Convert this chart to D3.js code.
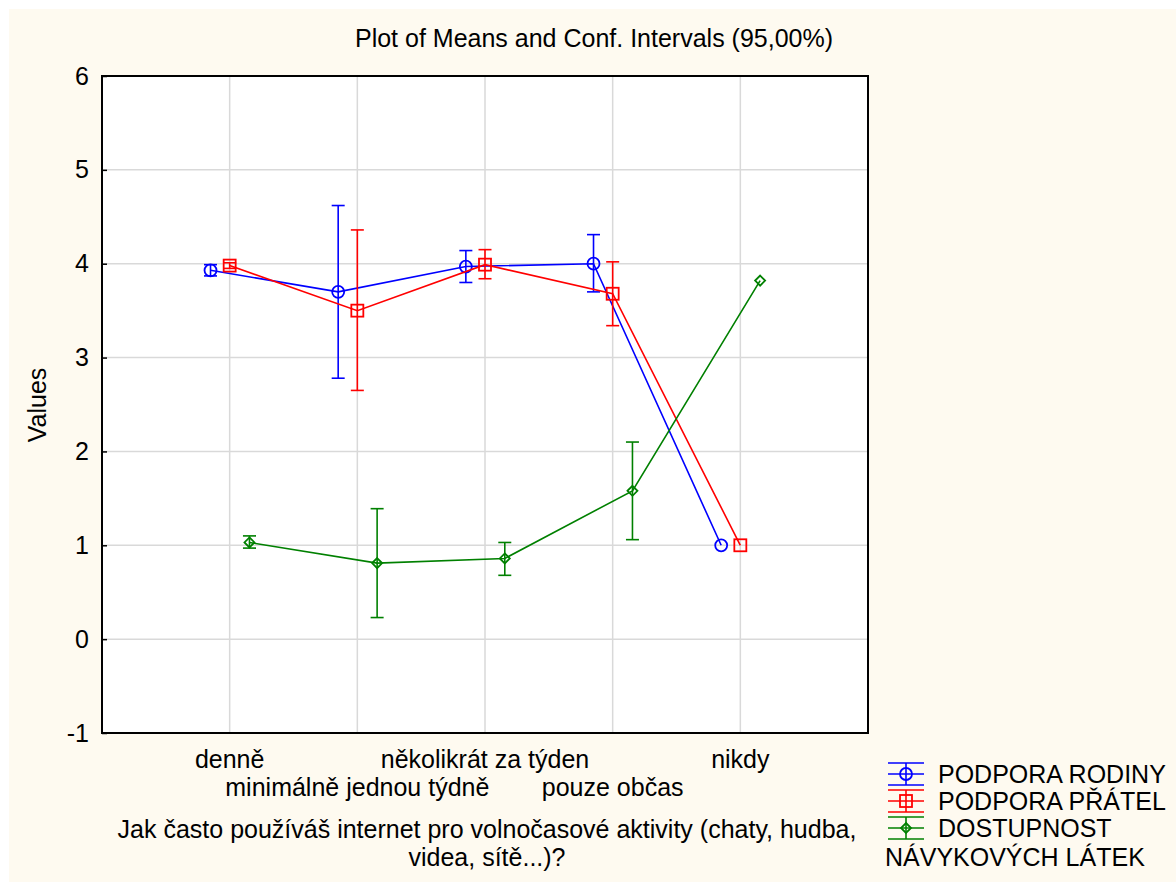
<!DOCTYPE html>
<html><head><meta charset="utf-8">
<script src="https://cdn.jsdelivr.net/npm/d3@7"></script>
<style>body{margin:0;background:#fff}svg{display:block}text{font-family:"Liberation Sans",Arial,sans-serif;fill:#000}</style>
</head><body>
<script>
const categories = ["denně","minimálně jednou týdně","několikrát za týden","pouze občas","nikdy"];
const seriesNames = ["PODPORA RODINY","PODPORA PŘÁTEL","DOSTUPNOST NÁVYKOVÝCH LÁTEK"];
const rodinyMean = [3.93, 3.70, 3.97, 4.00, 1.00];
const rodinyLow  = [3.87, 2.78, 3.80, 3.70, null];
const rodinyHigh = [3.99, 4.62, 4.14, 4.31, null];
const pratelMean = [3.98, 3.50, 3.99, 3.68, 1.00];
const pratelLow  = [3.95, 2.65, 3.84, 3.34, null];
const pratelHigh = [4.01, 4.36, 4.15, 4.02, null];
const latkyMean  = [1.03, 0.81, 0.86, 1.58, 3.82];
const latkyLow   = [0.97, 0.23, 0.68, 1.06, null];
const latkyHigh  = [1.10, 1.39, 1.03, 2.10, null];
const yTicks = [-1, 0, 1, 2, 3, 4, 5, 6];

const W = 1176, H = 882, FS = 25;
const svg = d3.select("body").append("svg").attr("width", W).attr("height", H);
svg.append("rect").attr("x", 9).attr("y", 9).attr("width", W - 9).attr("height", H - 9).attr("fill", "#fefaf0");

const L = 102, R = 868, T = 76, B = 733;
const x = d3.scaleLinear().domain([0, categories.length + 1]).range([L, R]);
const y = d3.scaleLinear().domain([-1, 6]).range([B, T]);

svg.append("rect").attr("x", L).attr("y", T).attr("width", R - L).attr("height", B - T).attr("fill", "#fff");

// grid
const g = svg.append("g");
g.selectAll(".hg").data(yTicks.filter(t => t > -1 && t < 6)).enter().append("line")
  .attr("x1", L).attr("x2", R).attr("y1", d => y(d)).attr("y2", d => y(d))
  .attr("stroke", "#d9d9d9").attr("stroke-width", 1.5);
g.selectAll(".vg").data(categories).enter().append("line")
  .attr("x1", (d, i) => x(i + 1)).attr("x2", (d, i) => x(i + 1)).attr("y1", T).attr("y2", B)
  .attr("stroke", "#d9d9d9").attr("stroke-width", 1.5);

// y axis
const yAxis = d3.axisLeft(y).tickValues(yTicks).tickSize(-5).tickFormat(d => String(d));
const ya = svg.append("g").attr("transform", `translate(${L},0)`).call(yAxis);
ya.select(".domain").remove();
ya.selectAll(".tick line").attr("stroke", "#000").attr("stroke-width", 1.5);
ya.selectAll(".tick text").attr("font-size", FS).style("font-family", '"Liberation Sans", Arial, sans-serif').attr("fill", "#000").attr("x", -13);

// frame
svg.append("rect").attr("x", L).attr("y", T).attr("width", R - L).attr("height", B - T)
  .attr("fill", "none").attr("stroke", "#000").attr("stroke-width", 2);

// x category labels
svg.selectAll(".cl").data(categories).enter().append("text")
  .attr("x", (d, i) => x(i + 1)).attr("y", (d, i) => i % 2 === 0 ? 768 : 796)
  .attr("text-anchor", "middle").attr("font-size", FS).text(d => d);

// titles
svg.append("text").attr("x", 594).attr("y", 47).attr("text-anchor", "middle").attr("font-size", FS)
  .text("Plot of Means and Conf. Intervals (95,00%)");
svg.append("text").attr("transform", "translate(46,405) rotate(-90)").attr("text-anchor", "middle").attr("font-size", FS).text("Values");
svg.append("text").attr("x", 487).attr("y", 838).attr("text-anchor", "middle").attr("font-size", FS)
  .text("Jak často používáš internet pro volnočasové aktivity (chaty, hudba,");
svg.append("text").attr("x", 487).attr("y", 866).attr("text-anchor", "middle").attr("font-size", FS)
  .text("videa, sítě...)?");

const series = [
  {mean: rodinyMean, low: rodinyLow, high: rodinyHigh, color: "#0000ff", off: -0.15, shape: "circle"},
  {mean: pratelMean, low: pratelLow, high: pratelHigh, color: "#ff0000", off: 0, shape: "square"},
  {mean: latkyMean, low: latkyLow, high: latkyHigh, color: "#008000", off: 0.155, shape: "diamond"}
];

function marker(sel, shape, color) {
  if (shape === "circle") {
    sel.append("circle").attr("r", 6).attr("fill", "none").attr("stroke", color).attr("stroke-width", 1.8);
  } else if (shape === "square") {
    sel.append("rect").attr("x", -6).attr("y", -6).attr("width", 12).attr("height", 12).attr("fill", "none").attr("stroke", color).attr("stroke-width", 1.8);
  } else {
    sel.append("path").attr("d", "M0,-5L5,0L0,5L-5,0Z").attr("fill", "none").attr("stroke", color).attr("stroke-width", 1.8);
  }
}

const cap = 6.5;
series.forEach(s => {
  const sg = svg.append("g");
  const pts = s.mean.map((m, i) => ({i, m, lo: s.low[i], hi: s.high[i]}));
  sg.append("path").datum(pts)
    .attr("d", d3.line().x(d => x(d.i + 1 + s.off)).y(d => y(d.m)))
    .attr("fill", "none").attr("stroke", s.color).attr("stroke-width", 1.6);
  const eb = pts.filter(d => d.lo != null);
  eb.forEach(d => {
    const cx = x(d.i + 1 + s.off);
    sg.append("line").attr("x1", cx).attr("x2", cx).attr("y1", y(d.lo)).attr("y2", y(d.hi)).attr("stroke", s.color).attr("stroke-width", 1.6);
    [d.lo, d.hi].forEach(v => sg.append("line").attr("x1", cx - cap).attr("x2", cx + cap).attr("y1", y(v)).attr("y2", y(v)).attr("stroke", s.color).attr("stroke-width", 1.6));
  });
  pts.forEach(d => {
    marker(sg.append("g").attr("transform", `translate(${x(d.i + 1 + s.off)},${y(d.m)})`), s.shape, s.color);
  });
});

// legend
const legendRows = [774, 801, 828];
series.forEach((s, k) => {
  const lg = svg.append("g").attr("transform", `translate(906,${legendRows[k]})`);
  lg.append("line").attr("x1", -18).attr("x2", 18).attr("y1", 0).attr("y2", 0).attr("stroke", s.color).attr("stroke-width", 1.6);
  lg.append("line").attr("x1", -18).attr("x2", 18).attr("y1", -11).attr("y2", -11).attr("stroke", s.color).attr("stroke-width", 1.6);
  lg.append("line").attr("x1", -18).attr("x2", 18).attr("y1", 11).attr("y2", 11).attr("stroke", s.color).attr("stroke-width", 1.6);
  lg.append("line").attr("x1", 0).attr("x2", 0).attr("y1", -11).attr("y2", 11).attr("stroke", s.color).attr("stroke-width", 1.6);
  marker(lg, s.shape, s.color);
});
svg.append("text").attr("x", 938).attr("y", 783).attr("font-size", FS).text(seriesNames[0]);
svg.append("text").attr("x", 938).attr("y", 810).attr("font-size", FS).text(seriesNames[1]);
svg.append("text").attr("x", 938).attr("y", 837).attr("font-size", FS).text("DOSTUPNOST");
svg.append("text").attr("x", 885).attr("y", 866).attr("font-size", FS).text("NÁVYKOVÝCH LÁTEK");
</script>
</body></html>
